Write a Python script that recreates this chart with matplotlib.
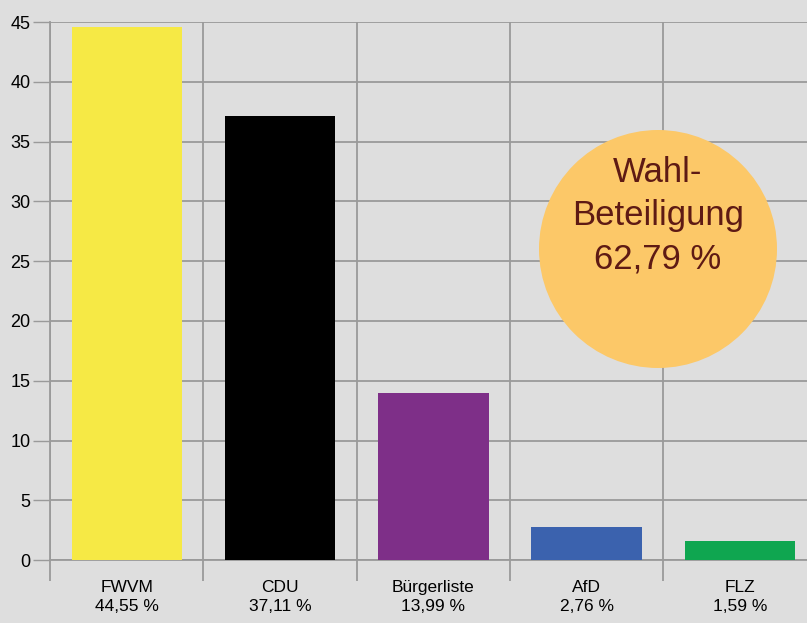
import matplotlib.pyplot as plt
from matplotlib.patches import Ellipse
import numpy as np

plt.rcParams['font.family'] = ['Liberation Sans', 'DejaVu Sans']

# Daten
parteien = ['FWVM', 'CDU', 'Bürgerliste', 'AfD', 'FLZ']
anteile = [44.55, 37.11, 13.99, 2.76, 1.59]
farben = ['#f6e945', '#000000', '#7e2f88', '#3b62ae', '#0fa650']
beteiligung = '62,79'
y_ticks = [0, 5, 10, 15, 20, 25, 30, 35, 40, 45]

bg = '#dedede'
grid = '#9a9a9a'

fig = plt.figure(figsize=(8.07, 6.23), dpi=100, facecolor=bg)
ax = fig.add_axes([0.062, 0.101, 0.950, 0.8636])
ax.set_facecolor(bg)

x = np.arange(len(parteien))
ax.bar(x, anteile, width=0.72, color=farben, zorder=3)

ax.set_xlim(-0.5, len(parteien) - 0.5)
ax.set_ylim(0, 45)
ax.set_yticks(y_ticks)
ax.tick_params(axis='y', length=12, width=1, color=grid, labelsize=13, pad=2)
ax.yaxis.grid(True, color=grid, linewidth=1.3, zorder=0)

# x-Achse: Beschriftung mittig, Trennstriche an den Grenzen
labels = [f'{p}\n{str(v).replace(".", ",")} %' for p, v in zip(parteien, anteile)]
ax.set_xticks(x)
ax.set_xticklabels(labels, fontsize=12.5, linespacing=1.35)
ax.tick_params(axis='x', which='major', length=0, pad=14)
ax.set_xticks(np.arange(len(parteien) + 1) - 0.5, minor=True)
ax.tick_params(axis='x', which='minor', length=15, width=1.3, color=grid)
ax.xaxis.grid(True, which='minor', color=grid, linewidth=1.3, zorder=0)

for s in ['top', 'right']:
    ax.spines[s].set_visible(False)
ax.spines['left'].set_color(grid)
ax.spines['left'].set_linewidth(1.3)
ax.spines['bottom'].set_color(grid)
ax.spines['bottom'].set_linewidth(1.3)

# Wahlbeteiligung-Kreis
cx, cy = 658 / 807, 1 - 249 / 623
r = 119
circ = Ellipse((cx, cy), 2 * r / 807, 2 * r / 623, transform=fig.transFigure,
               facecolor='#fcc868', edgecolor='none', zorder=5)
fig.patches.append(circ)
fig.text(cx, 1 - 216 / 623, f'Wahl-\nBeteiligung\n{beteiligung} %', ha='center', va='center',
         fontsize=25, color='#5e1a14', linespacing=1.4, zorder=6)

fig.savefig('out.png', dpi=100, facecolor=bg)
